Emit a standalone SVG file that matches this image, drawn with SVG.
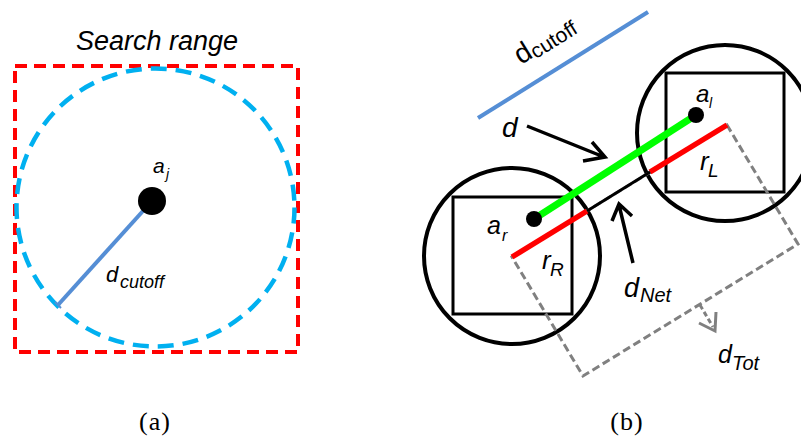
<svg xmlns="http://www.w3.org/2000/svg" width="801" height="440" viewBox="0 0 801 440">
<style>
.t{font-family:"Liberation Sans",Arial,sans-serif;font-style:italic;fill:#000}
.u{font-family:"Liberation Sans",Arial,sans-serif;fill:#000}
.cap{font-family:"Liberation Serif","Times New Roman",serif;font-size:26px;fill:#000;text-anchor:middle;letter-spacing:1px}
.blk{fill:none;stroke:#000;stroke-width:4}
.sq{fill:none;stroke:#000;stroke-width:3}
.cut{stroke:#558ED5;stroke-width:4;fill:none}
.arr{fill:none;stroke:#000;stroke-width:3.5;stroke-linejoin:miter;stroke-linecap:butt}
.gray{fill:none;stroke:#808080;stroke-width:3;stroke-dasharray:8 4}
.red{stroke:#ff0000;stroke-width:5.5}
</style>
<rect width="801" height="440" fill="#fff"/>

<!-- Panel (a) -->
<g id="search-range">
<rect x="15" y="66" width="283" height="286" fill="none" stroke="#ff0000" stroke-width="4" stroke-dasharray="12 7"/>
<text class="t" x="157" y="50" font-size="27" text-anchor="middle">Search range</text>
</g>
<g id="cutoff-circle">
<circle cx="155.5" cy="207.5" r="139" fill="none" stroke="#00b0f0" stroke-width="4.5" stroke-dasharray="16 9"/>
</g>
<g id="connectors-a">
<line class="cut" x1="152" y1="201" x2="58" y2="305"/>
<line stroke="#558ED5" stroke-width="2" x1="55" y1="302" x2="61" y2="308"/>
</g>
<g id="atom-aj">
<circle cx="152" cy="201" r="14" fill="#000"/>
<text class="t" x="153" y="173" font-size="21">a</text>
<text class="t" x="166" y="179" font-size="14">j</text>
</g>
<g id="label-dcutoff-a">
<text class="t" x="106" y="282" font-size="22">d</text>
<text class="t" x="120" y="288" font-size="18">cutoff</text>
</g>
<text class="cap" x="155" y="430">(a)</text>

<!-- Panel (b) -->
<g id="dcutoff-b">
<line class="cut" x1="478" y1="118" x2="648" y2="12"/>
<text class="u" transform="translate(521,65) rotate(-32)"><tspan font-size="28">d</tspan><tspan font-size="21" dy="3">cutoff</tspan></text>
</g>
<g id="box-right">
<circle class="blk" cx="725" cy="133" r="88"/>
<rect class="sq" x="666" y="73" width="118" height="119"/>
</g>
<g id="box-left">
<circle class="blk" cx="512" cy="256" r="88"/>
<rect class="sq" x="453" y="197" width="119" height="117"/>
</g>
<g id="connectors-b">
<polygon class="gray" points="512,257 727,125 798,244 583,376"/>
<line x1="534" y1="219" x2="696" y2="115" stroke="#00ff00" stroke-width="7"/>
<line class="red" x1="512" y1="257" x2="587" y2="211"/>
<line class="red" x1="650" y1="172" x2="727" y2="125"/>
<line x1="587" y1="211" x2="650" y2="172" stroke="#000" stroke-width="3"/>
<path class="arr" d="M527,126 L604,157 M592,142 L605,157 L583,161"/>
<path class="arr" d="M633,263 L619,205 M612,221 L619,204 L632,216"/>
<line x1="700" y1="305" x2="713" y2="327" stroke="#808080" stroke-width="3" stroke-dasharray="5 3"/>
<path d="M699,323 L715,331 L716,312" fill="none" stroke="#808080" stroke-width="3"/>
</g>
<g id="atom-al">
<circle cx="696" cy="115" r="8" fill="#000"/>
<text class="t" x="696" y="102" font-size="24">a</text>
<text class="t" x="709" y="108" font-size="14">l</text>
</g>
<g id="atom-ar">
<circle cx="534" cy="219" r="8" fill="#000"/>
<text class="t" x="487" y="234" font-size="25">a</text>
<text class="t" x="502" y="241" font-size="16">r</text>
</g>
<g id="labels-b">
<text class="t" x="502" y="137" font-size="28">d</text>
<text class="t" x="700" y="170" font-size="26">r</text>
<text class="t" x="708" y="177" font-size="19">L</text>
<text class="t" x="542" y="269" font-size="26">r</text>
<text class="t" x="550" y="276" font-size="19">R</text>
<text class="t" x="624" y="297" font-size="27">d</text>
<text class="t" x="640" y="302" font-size="20">Net</text>
<text class="t" x="718" y="363" font-size="25">d</text>
<text class="t" x="732" y="370" font-size="20">Tot</text>
</g>
<text class="cap" x="627" y="430">(b)</text>
</svg>
